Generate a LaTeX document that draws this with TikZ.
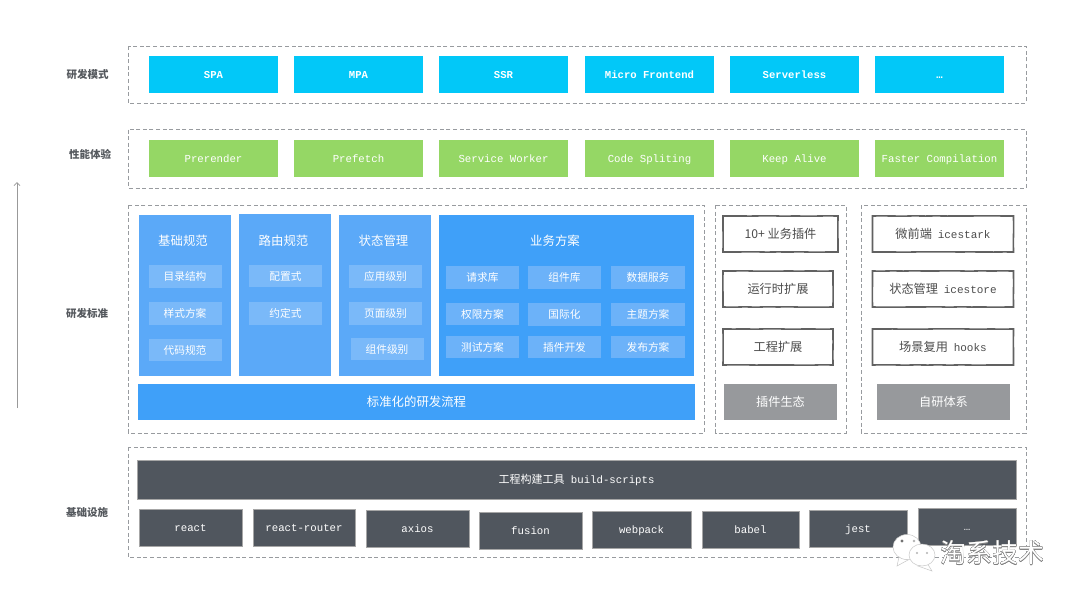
\documentclass[tikz,border=0pt]{standalone}
\usepackage{fontspec}
\usepackage{contour}
\setmainfont{Noto Sans CJK SC}
\newfontfamily\cjkfont{Noto Sans CJK SC}
\newfontfamily\monofont{Liberation Mono}
\usetikzlibrary{arrows.meta,decorations.pathmorphing}
\contourlength{0.3pt}
\definecolor{framegray}{HTML}{989B9F}
\definecolor{cyanbox}{HTML}{02C8F8}
\definecolor{greenbox}{HTML}{95D765}
\definecolor{bluecol}{HTML}{5BA9F8}
\definecolor{bluesub}{HTML}{7AB9F9}
\definecolor{bluebar}{HTML}{3FA0F9}
\definecolor{subbar}{HTML}{6CB2F9}
\definecolor{darkbox}{HTML}{50565E}
\definecolor{graybox}{HTML}{97999C}
\definecolor{labelgray}{HTML}{55595E}

\begin{document}
\begin{tikzpicture}[x=1pt,y=-1pt]
        %style
        \tikzset{frame/.style = {draw=framegray, line width=1pt, dash pattern=on 4pt off 2.6pt}}
        \tikzset{lane/.style = {anchor=center, font=\fontsize{10.5}{12}\selectfont\bfseries, text=labelgray}}
        \tikzset{tile/.style = {shape=rectangle, inner sep=0pt, text=white}}
        \tikzset{mono text/.style = {text height=8.5pt, text depth=1.5pt}}
        \tikzset{cyan tile/.style = {tile, mono text, fill=cyanbox, minimum width=129pt, minimum height=36.5pt, font=\fontsize{10.6}{12}\selectfont\monofont\bfseries}}
        \tikzset{green tile/.style = {tile, mono text, fill=greenbox, minimum width=129pt, minimum height=36.5pt, font=\fontsize{10.7}{12}\selectfont\monofont}}
        \tikzset{column/.style = {tile, fill=bluecol}}
        \tikzset{head/.style = {text=white, font=\fontsize{12.4}{14}\selectfont}}
        \tikzset{sub/.style = {tile, fill=bluesub, minimum height=22.5pt, font=\fontsize{10.7}{12}\selectfont}}
        \tikzset{bar/.style = {tile, fill=bluebar, font=\fontsize{12.4}{14}\selectfont}}
        \tikzset{sketch/.style = {shape=rectangle, inner sep=0pt, draw=black!62, line width=1.6pt, text=black!70, minimum height=36pt, font=\fontsize{12.2}{14}\selectfont, decorate, decoration={random steps, segment length=11pt, amplitude=0.2pt}}}
        \tikzset{gray tile/.style = {tile, fill=graybox, minimum height=36pt, font=\fontsize{12.2}{14}\selectfont}}
        \tikzset{dark tile/.style = {tile, mono text, fill=darkbox, draw=black!35, line width=0.4pt, text=white, minimum height=37pt, font=\fontsize{10.7}{12}\selectfont\monofont}}
        \useasboundingbox (0,0) rectangle (1080,600);
        \fill[white] (0,0) rectangle (1080,600);

        % dashed groups
        \draw[frame] (128,46) rectangle (1026,103);
        \draw[frame] (128,129.5) rectangle (1026,188);
        \draw[frame] (128,205) rectangle (704,433);
        \draw[frame] (715.5,205) rectangle (846,433);
        \draw[frame] (861,205) rectangle (1026,433);
        \draw[frame] (128,447) rectangle (1026,557);

        % lanes
        \node[lane] (modes)  at (87.5,75)  {研发模式};
        \node[lane] (perf)   at (90,154.5) {性能体验};
        \node[lane] (spec)   at (87,314)   {研发标准};
        \node[lane] (infra)  at (87,512.5) {基础设施};
        \coordinate (low)  at (17,408);
        \coordinate (high) at (17,182);
        \draw[-{Straight Barb[length=3pt,width=6pt]}, draw=black!40, line width=0.8pt] (low) to (high);

        % modes
        \node[cyan tile] (spa)   at (213.5,74.5) {SPA};
        \node[cyan tile] (mpa)   at (358.5,74.5) {MPA};
        \node[cyan tile] (ssr)   at (503.5,74.5) {SSR};
        \node[cyan tile] (micro) at (649.5,74.5) {Micro Frontend};
        \node[cyan tile] (serverless) at (794.5,74.5) {Serverless};
        \node[cyan tile] (moremodes)  at (939.5,74.5) {…};

        % performance
        \node[green tile] (prerender) at (213.5,158.5) {Prerender};
        \node[green tile] (prefetch)  at (358.5,158.5) {Prefetch};
        \node[green tile] (worker)    at (503.5,158.5) {Service Worker};
        \node[green tile] (split)     at (649.5,158.5) {Code Spliting};
        \node[green tile] (alive)     at (794.5,158.5) {Keep Alive};
        \node[green tile] (faster)    at (939.5,158.5) {Faster Compilation};

        % standards
        \node[column, minimum width=92pt, minimum height=161.5pt] (colbase)  at (185,295.25) {};
        \node[column, minimum width=92pt, minimum height=162.5pt] (colroute) at (285.25,294.75) {};
        \node[column, minimum width=92pt, minimum height=161.5pt] (colstate) at (385,295.25) {};
        \node[column, fill=bluebar, minimum width=255pt, minimum height=161pt] (colbiz) at (566.5,295) {};
        \node[head] (hbase)  at (183,241) {基础规范};
        \node[head] (hroute) at (283.5,241) {路由规范};
        \node[head] (hstate) at (383.5,241) {状态管理};
        \node[head] (hbiz)   at (555,241) {业务方案};
        \node[sub, minimum width=73pt] (dir)   at (185,276.5) {目录结构};
        \node[sub, minimum width=73pt] (style) at (185,313.7) {样式方案};
        \node[sub, minimum width=73pt] (code)  at (185,350) {代码规范};
        \node[sub, minimum width=73pt] (conf)  at (285.5,276) {配置式};
        \node[sub, minimum width=73pt] (conv)  at (285.5,313.7) {约定式};
        \node[sub, minimum width=73pt] (app)   at (385.5,276.5) {应用级别};
        \node[sub, minimum width=73pt] (page)  at (385.5,313.7) {页面级别};
        \node[sub, minimum width=73pt] (comp)  at (387,349) {组件级别};
        \tikzset{sub/.append style = {fill=subbar}}
        \node[sub, minimum width=73pt] (req)   at (482.5,277.5) {请求库};
        \node[sub, minimum width=73pt] (lib)   at (564.5,277.5) {组件库};
        \node[sub, minimum width=74pt] (data)  at (648,277.5) {数据服务};
        \node[sub, minimum width=73pt] (auth)  at (482.5,314) {权限方案};
        \node[sub, minimum width=73pt] (intl)  at (564.5,314.5) {国际化};
        \node[sub, minimum width=74pt] (theme) at (648,314.5) {主题方案};
        \node[sub, minimum width=73pt] (test)  at (482.5,347) {测试方案};
        \node[sub, minimum width=73pt] (plug)  at (564.5,347) {插件开发};
        \node[sub, minimum width=74pt] (pub)   at (648,347) {发布方案};
        \node[bar, minimum width=557pt, minimum height=36pt] (flow) at (416.5,402) {标准化的研发流程};

        % plugins
        \node[sketch, minimum width=115pt] (bizplug) at (780.5,234) {10+ 业务插件};
        \node[sketch, minimum width=110pt] (runtime) at (778,289)   {运行时扩展};
        \node[sketch, minimum width=110pt] (engine)  at (778,347)   {工程扩展};
        \node[gray tile, minimum width=113pt] (plugeco) at (780.5,402) {插件生态};

        % self made
        \node[sketch, minimum width=141pt] (stark) at (943,234) {微前端\hspace{3pt} {\monofont\fontsize{11}{14}\selectfont icestark}};
        \node[sketch, minimum width=141pt] (store) at (943,289) {状态管理\hspace{3pt} {\monofont\fontsize{11}{14}\selectfont icestore}};
        \node[sketch, minimum width=141pt] (hooks) at (943,347) {场景复用\hspace{3pt} {\monofont\fontsize{11}{14}\selectfont hooks}};
        \node[gray tile, minimum width=133pt] (selfeco) at (943.5,402) {自研体系};

        % infrastructure
        \node[dark tile, minimum width=879pt, minimum height=38.5pt] (build) at (576.5,479.5) {{\cjkfont\fontsize{11}{12}\selectfont 工程构建工具} build-scripts};
        \node[dark tile, minimum width=103pt] (react)  at (190.5,527.5) {react};
        \node[dark tile, minimum width=102pt] (router) at (304,527.5)   {react-router};
        \node[dark tile, minimum width=103pt] (axios)  at (417.5,528.5) {axios};
        \node[dark tile, minimum width=103pt] (fusion) at (530.5,530.5) {fusion};
        \node[dark tile, minimum width=99pt] (webpack) at (641.5,529.5) {webpack};
        \node[dark tile, minimum width=97pt]  (babel)  at (750.5,529.5) {babel};
        \node[dark tile, minimum width=98pt]  (jest)   at (858,528.5)   {jest};
        \node[dark tile, minimum width=98pt]  (morelib) at (967,527)    {…};

        % watermark
        \tikzset{bubble/.style = {fill=white, draw=black!22, line width=0.5pt}}
        \draw[bubble] (899,557) -- (897,566) -- (908,560) -- cycle;
        \fill[bubble] (907,547) ellipse (14 and 12.5);
        \draw[bubble] (927,563) -- (932,571) -- (918,566) -- cycle;
        \fill[bubble] (922,555) ellipse (13 and 11);
        \fill[black!55] (902,541) circle (1.6);
        \fill[black!30] (914,541) circle (1.4);
        \fill[black!30] (917,553) circle (1.2);
        \fill[black!30] (927,553) circle (1.2);
        \node[text=white, font=\fontsize{26}{28}\selectfont] (mark) at (992.5,553) {\contour{black!50}{淘系技术}};
\end{tikzpicture}
\end{document}
